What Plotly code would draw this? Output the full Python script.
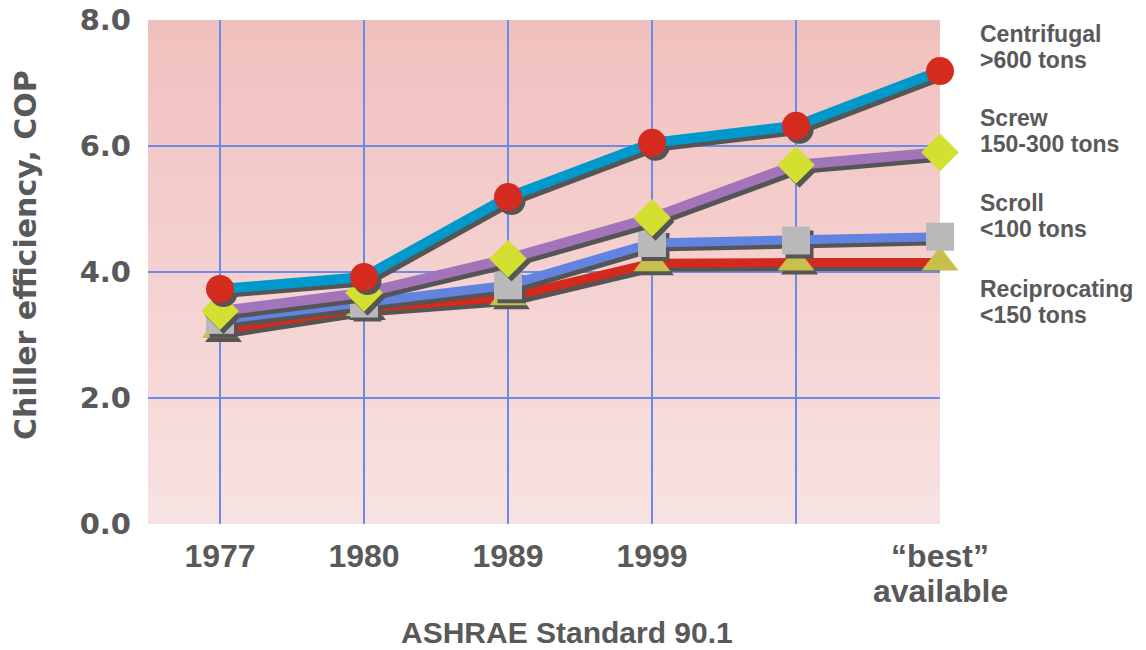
import plotly.graph_objects as go

# ---- data ----
categories = ["1977", "1980", "1989", "1999", "", "\u201cbest\u201d"]
category_second_line = ["", "", "", "", "", "available"]
centrifugal = [3.73, 3.92, 5.19, 6.05, 6.32, 7.19]
screw = [3.38, 3.67, 4.21, 4.86, 5.70, 5.90]
scroll = [3.24, 3.50, 3.79, 4.46, 4.50, 4.56]
reciprocating = [3.08, 3.43, 3.60, 4.14, 4.15, 4.15]
y_ticks = [0, 2, 4, 6, 8]
y_tick_labels = ["0.0", "2.0", "4.0", "6.0", "8.0"]
series_names = ["Centrifugal", "Screw", "Scroll", "Reciprocating"]
series_sizes = [">600 tons", "150-300 tons", "<100 tons", "<150 tons"]
label_px = [34, 118, 203, 289]   # pixel row of first label line

# ---- layout constants ----
W, H = 1146, 650
L, R, T, B = 148, 206, 20, 126
plot_w = W - L - R
plot_h = H - T - B
x_range = [-0.5, len(categories) - 1]
y_range = [0, 8]
px_x = plot_w / (x_range[1] - x_range[0])
px_y = plot_h / (y_range[1] - y_range[0])
sdx, sdy = 3.5 / px_x, -4 / px_y  # shadow offset in data units


def py(p):  # pixel row -> paper y
    return (T + plot_h - p) / plot_h


def pxp(p):  # pixel col -> paper x
    return (p - L) / plot_w


TEXT = "#595959"
SHADOW = "#555555"
xs = list(range(len(categories)))

fig = go.Figure()

series = [
    (reciprocating, "#d42a1e", 9, "triangle-up", 32, "#c8c04c"),
    (scroll, "#6283e0", 9, "square", 28, "#b9b9b9"),
    (screw, "#a274ba", 10, "diamond", 29, "#d3e032"),
    (centrifugal, "#0099cc", 10, "circle", 28, "#d52b1e"),
]

for vals, lc, lw, sym, ms, mc in series:
    fig.add_trace(go.Scatter(
        x=[v + sdx for v in xs], y=[v + sdy for v in vals],
        mode="lines+markers", line=dict(color=SHADOW, width=lw),
        marker=dict(symbol=sym, size=ms, color=SHADOW, line=dict(width=0)),
        hoverinfo="skip", showlegend=False, cliponaxis=False))
    fig.add_trace(go.Scatter(
        x=xs, y=vals, mode="lines+markers",
        line=dict(color=lc, width=lw),
        marker=dict(symbol=sym, size=ms, color=mc, line=dict(width=0)),
        showlegend=False, cliponaxis=False))

# gradient background
shapes = []
n = 80
top = (240, 192, 190)
bot = (248, 226, 226)
for i in range(n):
    f = i / (n - 1)
    c = tuple(round(top[k] + (bot[k] - top[k]) * f) for k in range(3))
    shapes.append(dict(type="rect", xref="x domain", yref="y domain",
                       x0=0, x1=1, y0=max(0, 1 - (i + 1) / n), y1=min(1, 1 - i / n + 0.002),
                       fillcolor="rgb(%d,%d,%d)" % c, line=dict(width=0),
                       layer="below"))
GRID = "#6a8ce6"
for xv in xs[:-1]:
    shapes.append(dict(type="line", xref="x", yref="y domain", x0=xv, x1=xv,
                       y0=0, y1=1, line=dict(color=GRID, width=2), layer="below"))
for yv in y_ticks[1:-1]:
    shapes.append(dict(type="line", xref="x domain", yref="y", x0=0, x1=1,
                       y0=yv, y1=yv, line=dict(color=GRID, width=2), layer="below"))

annotations = []
lab_font = dict(family="Liberation Sans, Arial", size=23, color=TEXT)
for name, size, p in zip(series_names, series_sizes, label_px):
    for txt, pp in ((name, p), (size, p + 26)):
        annotations.append(dict(text="<b>%s</b>" % txt, xref="paper", yref="paper",
                                x=pxp(978), y=py(pp), xanchor="left",
                                yanchor="middle", align="left", showarrow=False,
                                font=lab_font))
xfont = dict(family="Liberation Sans Narrow, Arial Narrow, Liberation Sans",
             size=32, color=TEXT)
for xv, t in zip(xs, category_second_line):
    if t:
        annotations.append(dict(text="<b>%s</b>" % t, xref="x", yref="paper",
                                x=xv, y=py(591), xanchor="center", yanchor="middle",
                                showarrow=False, font=xfont))
annotations.append(dict(text="<b>ASHRAE Standard 90.1</b>", xref="paper",
                        yref="paper", x=pxp(567), y=py(632),
                        xanchor="center", yanchor="middle", showarrow=False,
                        font=dict(family="Liberation Sans Narrow, Arial Narrow, Liberation Sans",
                                  size=30, color=TEXT)))
annotations.append(dict(text="<b>Chiller efficiency, COP</b>", xref="paper",
                        yref="paper", x=pxp(25), y=py(255),
                        xanchor="center", yanchor="middle", textangle=-90,
                        showarrow=False,
                        font=dict(family="DejaVu Sans, Verdana", size=30, color=TEXT)))

fig.update_layout(
    width=W, height=H,
    margin=dict(l=L, r=R, t=T, b=B, autoexpand=False),
    paper_bgcolor="white", plot_bgcolor="white",
    shapes=shapes, annotations=annotations,
    xaxis=dict(range=x_range, tickvals=xs, ticktext=["<b>%s</b>" % c for c in categories],
               showgrid=False, zeroline=False, showline=False, ticks="",
               ticklabelstandoff=10, automargin=False,
               tickfont=xfont),
    yaxis=dict(range=y_range, tickvals=y_ticks, ticktext=["<b>%s</b>" % t for t in y_tick_labels],
               showgrid=False, zeroline=False, showline=False, ticks="",
               ticklabelstandoff=16, automargin=False,
               tickfont=dict(family="DejaVu Sans, Verdana", size=29, color=TEXT)),
)

fig.write_html("out.html")
